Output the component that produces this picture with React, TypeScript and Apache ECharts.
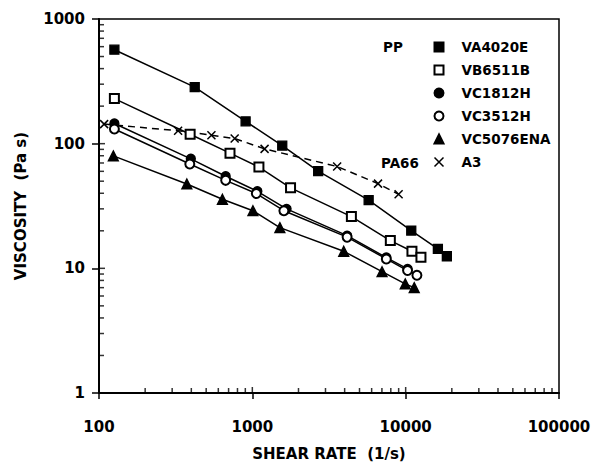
import React, { useEffect, useRef } from "react";
import * as echarts from "echarts";

// ---- data ----
const shearVA = [126, 421, 904, 1567, 2688, 5736, 10875, 16220, 18560];
const viscVA = [567, 284, 151, 96.4, 60.3, 35.2, 20.1, 14.3, 12.5];

const shearVB = [126, 393, 715, 1104, 1775, 4426, 7943, 10990, 12580];
const viscVB = [230, 119, 83.9, 64.9, 44.2, 26.0, 16.7, 13.7, 12.3];

const shearVC1812 = [126, 397, 670, 1078, 1672, 4150, 7478, 10290];
const viscVC1812 = [145, 75.6, 54.8, 41.5, 30.0, 18.3, 12.2, 9.9];

const shearVC3512 = [126, 391, 670, 1062, 1606, 4150, 7478, 10290, 11840];
const viscVC3512 = [131, 68.7, 50.8, 39.8, 29.0, 17.8, 11.9, 9.6, 8.8];

const shearVC5076 = [124, 374, 638, 1009, 1512, 3945, 7014, 9935, 11370];
const viscVC5076 = [79.8, 47.5, 35.8, 29.0, 21.2, 13.7, 9.4, 7.5, 7.0];

const shearA3 = [108, 328, 541, 767, 1202, 3573, 6603, 8995];
const viscA3 = [143.5, 127, 117, 110, 90.8, 65.6, 47.8, 39.3];

const xMinorTicks = [200, 300, 400, 500, 600, 700, 800, 900, 2000, 3000, 4000, 5000, 6000, 7000, 8000, 9000, 20000, 30000, 40000, 50000, 60000, 70000, 80000, 90000];
const xMajorTicks = [1000, 10000];
const yMinorTicks = [2, 3, 4, 5, 6, 7, 8, 9, 20, 30, 40, 50, 60, 70, 80, 90, 200, 300, 400, 500, 600, 700, 800, 900];
const yMajorTicks = [10, 100];

const groupLabels = ["PP", "PA66"];
const xTitle = "SHEAR RATE  (1/s)";
const yTitle = "VISCOSITY  (Pa s)";

const X_PATH = "path://M0,0L10,10M10,0L0,10";
const FONT = "DejaVu Sans";

const zip = (xs: number[], ys: number[]) => xs.map((x, i) => [x, ys[i]]);

export default function App() {
  const ref = useRef<HTMLDivElement>(null);
  useEffect(() => {
    if (!ref.current) return;
    const chart = echarts.init(ref.current, undefined, { renderer: "svg" });
    const lineBase = (name: string, data: number[][], symbol: string, size: number, dashed = false) => ({
      name,
      type: "line",
      data,
      symbol,
      symbolSize: size,
      showSymbol: true,
      clip: false,
      lineStyle: { color: "#000", width: 1.5, type: dashed ? [7, 5] : "solid" },
      itemStyle: { color: "#000", borderColor: "#000", borderWidth: symbol === X_PATH ? 1.5 : 1.3 },
      emphasis: { disabled: true },
      z: 3,
    });
    const tickSeries = (data: number[][], size: number[], offset: number[]) => ({
      type: "scatter",
      data,
      symbol: "rect",
      symbolSize: size,
      symbolOffset: offset,
      clip: false,
      itemStyle: { color: "#000" },
      silent: true,
      z: 4,
    });
    chart.setOption({
      animation: false,
      backgroundColor: "#fff",
      grid: {
        left: 99,
        right: 36,
        top: 19,
        bottom: 71,
        show: true,
        borderColor: "#000",
        borderWidth: 1.5,
        backgroundColor: "transparent",
      },
      xAxis: {
        type: "log",
        logBase: 10,
        min: 100,
        max: 100000,
        name: xTitle,
        nameLocation: "middle",
        nameGap: 53,
        nameTextStyle: { fontFamily: FONT, fontWeight: "bold", fontSize: 15, color: "#000" },
        axisLine: { lineStyle: { color: "#000", width: 2 } },
        axisTick: { show: true, length: 6, lineStyle: { color: "#000", width: 1.5 } },
        splitLine: { show: false },
        axisLabel: {
          margin: 26,
          fontFamily: FONT,
          fontWeight: "bold",
          fontSize: 15,
          color: "#000",
          formatter: (v: number) => String(Math.round(v)),
        },
      },
      yAxis: {
        type: "log",
        logBase: 10,
        min: 1,
        max: 1000,
        name: yTitle,
        nameLocation: "middle",
        nameRotate: 90,
        nameGap: 71,
        nameTextStyle: { fontFamily: FONT, fontWeight: "bold", fontSize: 15, color: "#000" },
        axisLine: { lineStyle: { color: "#000", width: 2 } },
        axisTick: { show: true, length: 7, lineStyle: { color: "#000", width: 1.5 } },
        splitLine: { show: false },
        axisLabel: {
          margin: 14,
          fontFamily: FONT,
          fontWeight: "bold",
          fontSize: 15,
          color: "#000",
          formatter: (v: number) => String(Math.round(v)),
        },
      },
      legend: {
        orient: "vertical",
        left: 427,
        top: 35,
        itemWidth: 9,
        itemHeight: 9,
        itemGap: 9,
        selectedMode: false,
        textStyle: {
          fontFamily: FONT,
          fontWeight: "bold",
          fontSize: 13.5,
          color: "#000",
          lineHeight: 14,
          padding: [0, 0, 0, 13],
        },
        data: [
          { name: "VA4020E", icon: "rect" },
          { name: "VB6511B", icon: "emptyRect" },
          { name: "VC1812H", icon: "circle" },
          { name: "VC3512H", icon: "emptyCircle" },
          { name: "VC5076ENA", icon: "triangle" },
          { name: "A3", icon: X_PATH, itemStyle: { color: "none", borderColor: "#000", borderWidth: 1.5 } },
        ],
      },
      graphic: [
        {
          type: "text",
          left: 383,
          top: 40,
          style: { text: groupLabels[0], fontFamily: FONT, fontWeight: "bold", fontSize: 13.5, fill: "#000" },
        },
        {
          type: "text",
          left: 381,
          top: 156,
          style: { text: groupLabels[1], fontFamily: FONT, fontWeight: "bold", fontSize: 13.5, fill: "#000" },
        },
      ],
      series: [
        lineBase("VA4020E", zip(shearVA, viscVA), "rect", 9),
        lineBase("VB6511B", zip(shearVB, viscVB), "emptyRect", 9),
        lineBase("VC1812H", zip(shearVC1812, viscVC1812), "circle", 9),
        lineBase("VC3512H", zip(shearVC3512, viscVC3512), "emptyCircle", 9),
        lineBase("VC5076ENA", zip(shearVC5076, viscVC5076), "triangle", 10),
        lineBase("A3", zip(shearA3, viscA3), X_PATH, 8, true),
        tickSeries(xMinorTicks.map((v) => [v, 1]), [1.5, 5], [0, -2.5]),
        tickSeries(xMajorTicks.map((v) => [v, 1]), [1.5, 6], [0, -3]),
        tickSeries(yMinorTicks.map((v) => [100, v]), [5, 1.5], [2.5, 0]),
        tickSeries(yMajorTicks.map((v) => [100, v]), [6, 1.5], [3, 0]),
      ],
    });
    return () => chart.dispose();
  }, []);
  return <div ref={ref} style={{ position: "absolute", left: 0, top: 0, width: 595, height: 466 }} />;
}
